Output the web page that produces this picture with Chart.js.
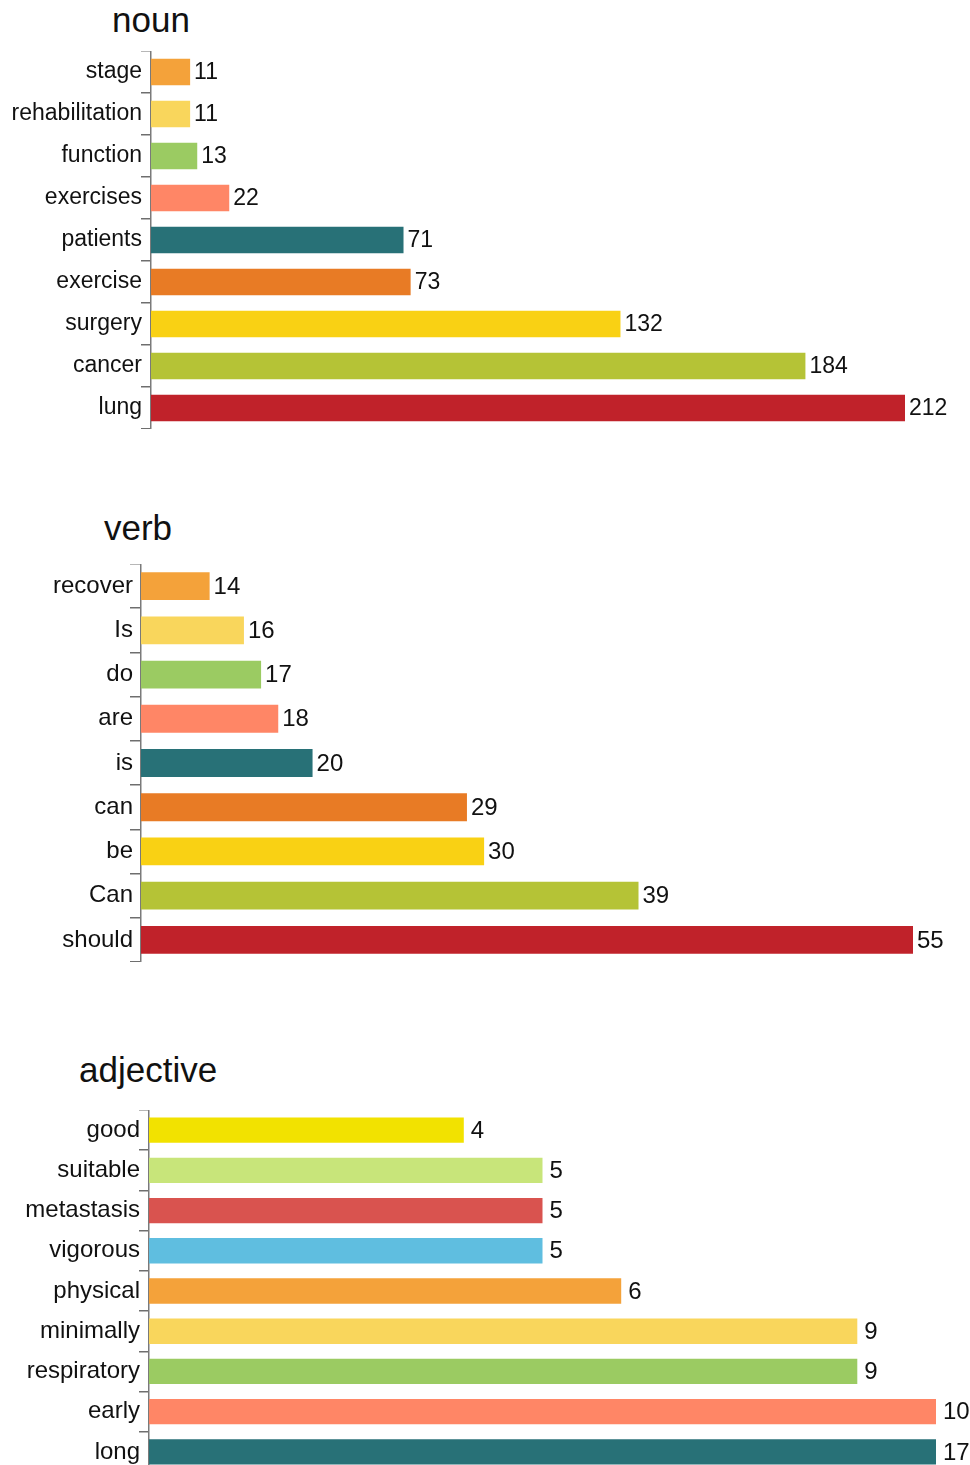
<!DOCTYPE html>
<html>
<head>
<meta charset="utf-8">
<script src="https://cdn.jsdelivr.net/npm/chart.js@4/dist/chart.umd.min.js"></script>
<style>
  html, body { margin: 0; padding: 0; background: #fff; overflow: hidden; }
  body { width: 970px; height: 1465px; position: relative; font-family: "Liberation Sans", Arial, sans-serif; }
  .title { position: absolute; font-size: 35px; line-height: 35px; color: #111; white-space: nowrap; }
  canvas { position: absolute; left: 0; }
</style>
</head>
<body>
<div class="title" style="left:112px; top:2px;">noun</div>
<div class="title" style="left:104px; top:510px;">verb</div>
<div class="title" style="left:79px; top:1052px;">adjective</div>

<canvas id="nounChart" width="970" height="378" style="top:51px"></canvas>
<canvas id="verbChart" width="970" height="398" style="top:564px"></canvas>
<canvas id="adjChart" width="970" height="362" style="top:1110px"></canvas>

<script>
// word frequencies, top to bottom as in the figure
const nounLabels = ['stage', 'rehabilitation', 'function', 'exercises', 'patients', 'exercise', 'surgery', 'cancer', 'lung'];
const nounValues = [11, 11, 13, 22, 71, 73, 132, 184, 212];

const verbLabels = ['recover', 'Is', 'do', 'are', 'is', 'can', 'be', 'Can', 'should'];
const verbValues = [14, 16, 17, 18, 20, 29, 30, 39, 55];

const adjLabels = ['good', 'suitable', 'metastasis', 'vigorous', 'physical', 'minimally', 'respiratory', 'early', 'long'];
const adjValues = [4, 5, 5, 5, 6, 9, 9, 10, 17];

// axis ranges as drawn in the original (verb axis starts at 10, adjective axis stops at 10)
const nounRange = [0, 212];
const verbRange = [10, 55];
const adjRange = [0, 10];

const palette = ['#F4A23A', '#F9D65C', '#9BCB62', '#FF8666', '#287177', '#E87B25', '#F9D114', '#B5C336', '#C0222A'];
const adjPalette = ['#F2E200', '#C8E57A', '#D9534F', '#5FBEE0', '#F4A23A', '#F9D65C', '#9BCB62', '#FF8666', '#287177'];

const valueLabels = {
  id: 'valueLabels',
  afterDatasetsDraw(chart, args, opts) {
    const { ctx, chartArea } = chart;
    const ds = chart.data.datasets[0];
    const meta = chart.getDatasetMeta(0);
    ctx.save();
    ctx.font = opts.size + 'px "Liberation Sans", Arial, sans-serif';
    ctx.fillStyle = '#111';
    ctx.textBaseline = 'middle';
    ctx.textAlign = 'left';
    meta.data.forEach((bar, i) => {
      // bars past the axis end are clipped, so keep the label next to the clipped end
      const x = Math.min(bar.x, chartArea.right);
      ctx.fillText(String(ds.data[i]), x + opts.gap, bar.y + 1);
    });
    ctx.restore();
  }
};

function createBarChart(id, labels, values, colors, range, axisX, rightX, cfg) {
  const canvas = document.getElementById(id);
  return new Chart(canvas.getContext('2d'), {
    type: 'bar',
    data: {
      labels,
      datasets: [{ data: values, backgroundColor: colors, barPercentage: 0.63, categoryPercentage: 1 }],
    },
    options: {
      indexAxis: 'y',
      responsive: false,
      animation: false,
      devicePixelRatio: 1,
      layout: { padding: { left: 0, right: canvas.width - rightX, top: 0, bottom: 0 } },
      plugins: {
        legend: { display: false },
        tooltip: { enabled: false },
        valueLabels: { size: cfg.valueSize, gap: cfg.gap },
      },
      scales: {
        x: { display: false, min: range[0], max: range[1] },
        y: {
          afterFit: (scale) => {
            scale.width = axisX;
            scale.paddingTop = 0;
            scale.paddingBottom = 0;
          },
          border: { display: true, color: '#7a7a7a', width: 1.5 },
          grid: { drawOnChartArea: false, color: '#6e6e6e', tickLength: cfg.tickLength, lineWidth: 1.5 },
          ticks: {
            color: '#111',
            padding: cfg.padding,
            font: { family: '"Liberation Sans", Arial, sans-serif', size: cfg.labelSize },
          },
        },
      },
    },
    plugins: [valueLabels],
  });
}

createBarChart('nounChart', nounLabels, nounValues, palette, nounRange, 151, 905,
  { labelSize: 23, valueSize: 23, tickLength: 10, padding: -1, gap: 4 });
createBarChart('verbChart', verbLabels, verbValues, palette, verbRange, 141, 913,
  { labelSize: 24, valueSize: 24, tickLength: 11, padding: -3, gap: 4 });
createBarChart('adjChart', adjLabels, adjValues, adjPalette, adjRange, 149, 936,
  { labelSize: 24, valueSize: 24, tickLength: 10, padding: -1, gap: 7 });
</script>
</body>
</html>
